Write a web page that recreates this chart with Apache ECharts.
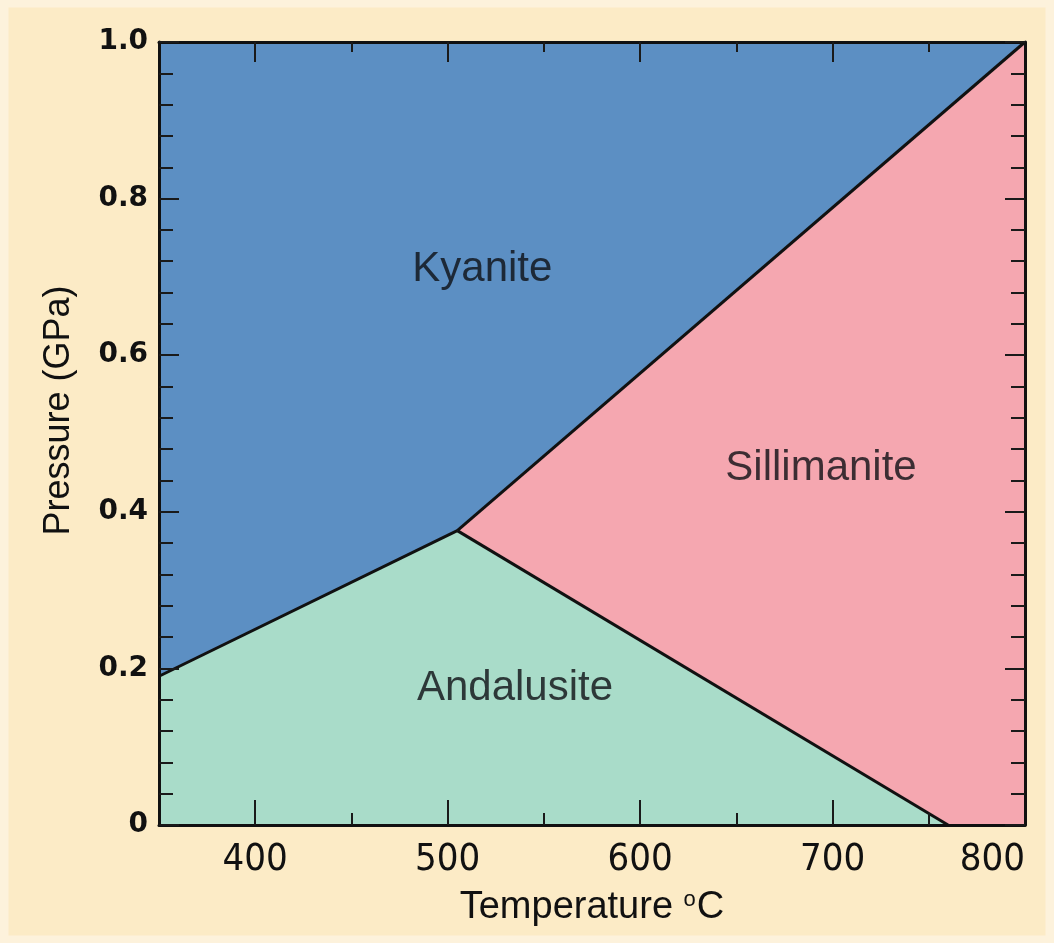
<!DOCTYPE html>
<html>
<head>
<meta charset="utf-8">
<script src="https://cdn.jsdelivr.net/npm/echarts@6/dist/echarts.min.js"></script>
<style>
html,body{margin:0;padding:0;background:#fcebc6;}
#chart{width:1054px;height:943px;}
</style>
</head>
<body>
<div id="chart"></div>
<script>
// ---- data ----
const tempRange = [350, 800];
const pressureRange = [0, 1.0];
const tempMajorTicks = [400, 500, 600, 700];
const tempMinorTicks = [450, 550, 650, 750];
const tempLabels = [400, 500, 600, 700, 800];
const triplePoint = [505, 0.376];
const kyaniteAndalusite = [[350, 0.19], [505, 0.376]];
const kyaniteSillimanite = [[505, 0.376], [800, 1.0]];
const andalusiteSillimanite = [[505, 0.376], [760, 0]];
const regionNames = ['Kyanite', 'Sillimanite', 'Andalusite'];
const regionLabelPos = [[518, 0.71], [694, 0.456], [535, 0.175]];

// region polygons built from boundaries and axis corners
const kyanitePoly = [kyaniteAndalusite[0], triplePoint, kyaniteSillimanite[1], [tempRange[0], pressureRange[1]]];
const sillimanitePoly = [triplePoint, kyaniteSillimanite[1], [tempRange[1], pressureRange[0]], andalusiteSillimanite[1]];
const andalusitePoly = [[tempRange[0], pressureRange[0]], kyaniteAndalusite[0], triplePoint, andalusiteSillimanite[1]];

const colors = {kyanite: '#5c8fc3', sillimanite: '#f5a7b0', andalusite: '#a9dcc9'};

function polySeries(points, color) {
  return {
    type: 'custom', coordinateSystem: 'cartesian2d', silent: true, z: 1, clip: false,
    data: [points[0]],
    renderItem: function (params, api) {
      return {type: 'polygon', shape: {points: points.map(p => api.coord(p))}, style: {fill: color}};
    }
  };
}
function lineSeries(pts) {
  return {
    type: 'line', data: pts, symbol: 'none', silent: true, z: 3,
    lineStyle: {color: '#111', width: 3}
  };
}

const axisLine = {show: true, onZero: false, lineStyle: {color: '#111', width: 3}};
const noLine = {show: false, onZero: false};
const tickStyle = {color: '#1a1a1a', width: 2};
const AZ = 20;

const chart = echarts.init(document.getElementById('chart'));
chart.setOption({
  backgroundColor: '#fcebc6',
  animation: false,
  grid: {left: 159, right: 29, top: 42, bottom: 118},
  graphic: [{
    type: 'rect', silent: true, z: 100,
    shape: {x: 4, y: 3, width: 1046, height: 937},
    style: {fill: 'none', stroke: '#fdf2dc', lineWidth: 9}
  }],
  xAxis: [
    {
      type: 'value', position: 'bottom', offset: 0, min: tempRange[0], max: tempRange[1], z: AZ,
      axisLine: axisLine, splitLine: {show: false},
      axisTick: {show: true, inside: true, length: 25, customValues: tempMajorTicks, lineStyle: tickStyle},
      axisLabel: {show: true, customValues: tempLabels, margin: 16, alignMaxLabel: 'right',
        fontFamily: 'Liberation Sans Narrow, DejaVu Sans Condensed, Liberation Sans', fontSize: 38, color: '#111'},
      name: '{a|Temperature }{s|o}{a|C}', nameLocation: 'middle', nameGap: 64,
      nameTextStyle: {rich: {
        a: {fontFamily: 'Liberation Sans Narrow, Liberation Sans', fontSize: 38, color: '#111'},
        s: {fontFamily: 'Liberation Sans Narrow, Liberation Sans', fontSize: 22, color: '#111', verticalAlign: 'top', padding: [0, 1, 16, 0]}
      }}
    },
    {
      type: 'value', position: 'bottom', offset: 0, min: tempRange[0], max: tempRange[1], z: AZ,
      axisLine: noLine, splitLine: {show: false}, axisLabel: {show: false},
      axisTick: {show: true, inside: true, length: 12, customValues: tempMinorTicks, lineStyle: tickStyle}
    },
    {
      type: 'value', position: 'top', offset: 0, min: tempRange[0], max: tempRange[1], z: AZ,
      axisLine: axisLine, splitLine: {show: false}, axisLabel: {show: false},
      axisTick: {show: true, inside: true, length: 20, customValues: tempMajorTicks, lineStyle: tickStyle}
    },
    {
      type: 'value', position: 'top', offset: 0, min: tempRange[0], max: tempRange[1], z: AZ,
      axisLine: noLine, splitLine: {show: false}, axisLabel: {show: false},
      axisTick: {show: true, inside: true, length: 10, customValues: tempMinorTicks, lineStyle: tickStyle}
    }
  ],
  yAxis: [
    {
      type: 'value', position: 'left', min: pressureRange[0], max: pressureRange[1], interval: 0.2, z: AZ,
      axisLine: axisLine, splitLine: {show: false}, minorSplitLine: {show: false},
      axisTick: {show: true, inside: true, length: 20, lineStyle: tickStyle},
      minorTick: {show: true, splitNumber: 5, length: 14, lineStyle: tickStyle},
      axisLabel: {show: true, margin: 11, fontFamily: 'DejaVu Sans', fontWeight: 'bold', fontSize: 28, color: '#111',
        formatter: v => v === 0 ? '0' : v.toFixed(1)},
      name: 'Pressure (GPa)', nameLocation: 'middle', nameGap: 82, nameRotate: 90,
      nameTextStyle: {fontFamily: 'Liberation Sans Narrow, Liberation Sans', fontSize: 36, color: '#111', padding: [0, 0, 0, 46]}
    },
    {
      type: 'value', position: 'right', min: pressureRange[0], max: pressureRange[1], interval: 0.2, z: AZ,
      axisLine: axisLine, splitLine: {show: false},
      axisTick: {show: true, inside: true, length: 20, lineStyle: tickStyle},
      minorTick: {show: true, splitNumber: 5, length: 14, lineStyle: tickStyle},
      axisLabel: {show: false}
    }
  ],
  series: [
    polySeries(kyanitePoly, colors.kyanite),
    polySeries(sillimanitePoly, colors.sillimanite),
    polySeries(andalusitePoly, colors.andalusite),
    lineSeries(kyaniteAndalusite),
    lineSeries(kyaniteSillimanite),
    lineSeries(andalusiteSillimanite),
    {
      type: 'scatter', symbolSize: 0, silent: true, z: 4,
      data: regionLabelPos.map((p, i) => ({value: p, name: regionNames[i]})),
      label: {show: true, position: 'inside', formatter: '{b}',
        fontFamily: 'Liberation Sans', fontSize: 42, color: '#0e0f14'}
    }
  ]
});
</script>
</body>
</html>
